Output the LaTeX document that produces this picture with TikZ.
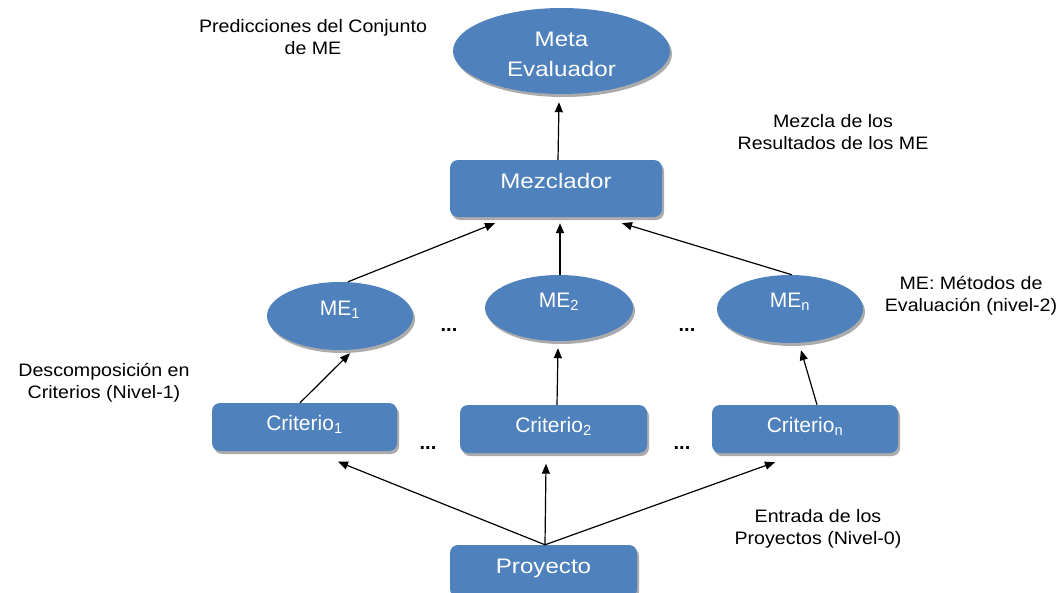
\documentclass[tikz,border=0pt]{standalone}
\usepackage{fontspec}
\setmainfont{Liberation Sans}
\newfontfamily\wideface[FakeStretch=1.15]{Liberation Sans}
\newfontfamily\labelface[FakeStretch=1.09]{Liberation Sans}
\usetikzlibrary{shapes.geometric,shadows,arrows.meta,calc}
\definecolor{boxblue}{RGB}{79,129,189}
\definecolor{shadowgray}{RGB}{150,150,150}

\begin{document}
\begin{tikzpicture}[x=1pt,y=-1pt,
  shade/.style={drop shadow={shadow xshift=2pt,shadow yshift=-3pt,fill=shadowgray,opacity=0.8}},
  blockbox/.style={rectangle,rounded corners=8pt,fill=boxblue,draw=none,inner sep=0pt,shade},
  blob/.style={ellipse,fill=boxblue,draw=none,inner sep=0pt,shade},
  bigtxt/.style={text=white,font=\wideface\fontsize{21}{30}\selectfont,align=center,inner sep=0pt},
  smalltxt/.style={text=white,font=\fontsize{21}{25}\selectfont,inner sep=0pt},
  note/.style={text=black,font=\labelface\fontsize{18}{22}\selectfont,align=center},
  dots/.style={font=\bfseries\fontsize{20}{24}\selectfont,anchor=base},
  link/.style={draw=black,line width=1.2pt,-{Triangle[length=10pt,width=8pt]}},
]
\path[use as bounding box,clip] (0,0) rectangle (1063,592);

% top level: meta evaluator and mixer
\node[blob,minimum width=217pt,minimum height=86pt] (meta) at (561.5,51) {};
\node[bigtxt] (tmeta) at ($(meta.center)+(0,3)$) {Meta\\Evaluador};
\node[blockbox,minimum width=212pt,minimum height=57pt] (mez) at (556,188.5) {};
\node[bigtxt,anchor=base] (tmez) at ($(mez.center)+(0,-0.5)$) {Mezclador};

% evaluation methods (level 2)
\node[blob,minimum width=146pt,minimum height=68pt] (me1) at (340,316) {};
\node[smalltxt,anchor=base] (tme1) at ($(me1.center)+(0,-0.5)$) {ME\textsubscript{1}};
\node[blob,minimum width=148pt,minimum height=66pt] (me2) at (559,308) {};
\node[smalltxt,anchor=base] (tme2) at ($(me2.center)+(0,-0.5)$) {ME\textsubscript{2}};
\node[blob,minimum width=146pt,minimum height=68pt] (men) at (790,309) {};
\node[smalltxt,anchor=base] (tmen) at ($(men.center)+(0,-1.5)$) {ME\textsubscript{n}};

% criteria (level 1)
\node[blockbox,minimum width=185pt,minimum height=48pt] (c1) at (304.5,427) {};
\node[smalltxt,anchor=base] (tc1) at ($(c1.center)+(0,3)$) {Criterio\textsubscript{1}};
\node[blockbox,minimum width=187pt,minimum height=48pt] (c2) at (553.5,429) {};
\node[smalltxt,anchor=base] (tc2) at ($(c2.center)+(0,3)$) {Criterio\textsubscript{2}};
\node[blockbox,minimum width=186pt,minimum height=48pt] (cn) at (805,429) {};
\node[smalltxt,anchor=base] (tcn) at ($(cn.center)+(0,3)$) {Criterio\textsubscript{n}};

% project input (level 0)
\node[blockbox,minimum width=187pt,minimum height=52pt] (proy) at (543.5,571) {};
\node[bigtxt,anchor=base] (tproy) at ($(proy.center)+(0,2)$) {Proyecto};

% ellipses between siblings
\node[dots] (d1) at (449,331) {...};
\node[dots] (d2) at (687,331) {...};
\node[dots] (d3) at (428,449) {...};
\node[dots] (d4) at (682,449) {...};

% side notes
\node[note] (npred) at (313,37) {Predicciones del Conjunto\\de ME};
\node[note] (nmez) at (833,132.5) {Mezcla de los\\Resultados de los ME};
\node[note] (nmet) at (971,296) {ME: Métodos de\\Evaluación (nivel-2)};
\node[note] (ndesc) at (104,383) {Descomposición en\\Criterios (Nivel-1)};
\node[note] (nent) at (818,529) {Entrada de los\\Proyectos (Nivel-0)};

% connectors
\draw[link] ($(proy.north)+(1.5,0)$) -- ($(c1.south)+(33.5,10.5)$);
\draw[link] ($(proy.north)+(1.5,0)$) -- ($(c2.south)+(-7.5,10.5)$);
\draw[link] ($(proy.north)+(1.5,0)$) -- ($(cn.south)+(-30,9)$);

\draw[link] ($(c1.north)+(-4.5,0)$) -- ($(me1.south)+(10,3)$);
\draw[link] ($(c2.north)+(3.5,0)$) -- ($(me2.south)+(-1,7)$);
\draw[link] ($(cn.north)+(12,0)$) -- ($(men.south)+(11,7)$);

\draw[link] ($(me1.north)+(8,0)$) -- ($(mez.south)+(-61,6)$);
\draw[link] ($(me2.north)+(1,0)$) -- ($(mez.south)+(4,6)$);
\draw[link] ($(men.north)+(2,0)$) -- ($(mez.south)+(66,6)$);

\draw[link] ($(mez.north)+(2,0)$) -- ($(meta.south)+(-2.5,8)$);
\end{tikzpicture}
\end{document}
